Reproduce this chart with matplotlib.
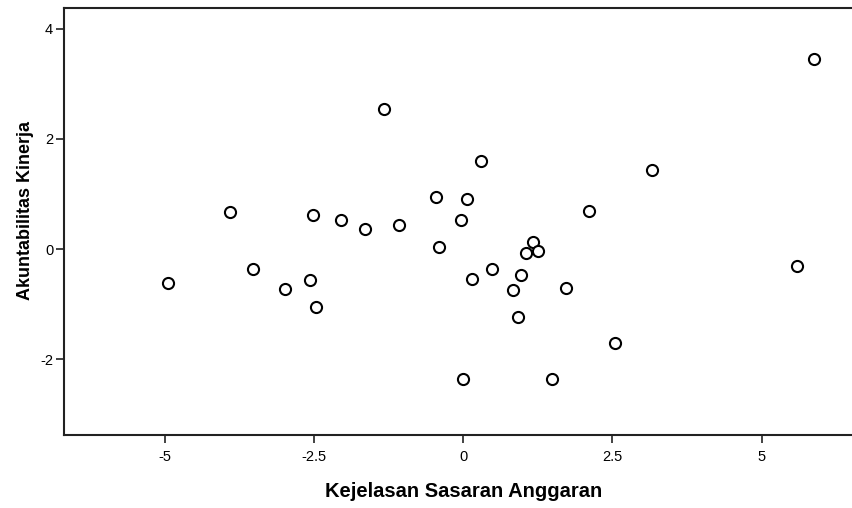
import matplotlib
matplotlib.use("Agg")
import matplotlib.pyplot as plt

# Data (Kejelasan Sasaran Anggaran vs Akuntabilitas Kinerja)
kejelasan = [-4.95, -3.90, -3.52, -2.99, -2.56, -2.52, -2.46, -2.04, -1.64, -1.33,
             -1.07, -0.46, -0.41, -0.03, 0.00, 0.06, 0.15, 0.30, 0.48, 0.83,
             0.92, 0.97, 1.06, 1.17, 1.25, 1.49, 1.72, 2.11, 2.54, 3.16,
             5.60, 5.87]
akuntabilitas = [-0.62, 0.68, -0.37, -0.72, -0.57, 0.62, -1.05, 0.53, 0.36, 2.54,
                 0.44, 0.94, 0.03, 0.53, -2.37, 0.91, -0.55, 1.60, -0.37, -0.75,
                 -1.23, -0.47, -0.08, 0.12, -0.03, -2.37, -0.70, 0.69, -1.71, 1.44,
                 -0.30, 3.46]
x_ticks = [-5, -2.5, 0, 2.5, 5]
x_ticklabels = ["-5", "-2.5", "0", "2.5", "5"]
y_ticks = [-2, 0, 2, 4]
y_ticklabels = ["-2", "0", "2", "4"]

plt.rcParams['font.family'] = ['Liberation Sans', 'DejaVu Sans']
plt.rcParams['axes.unicode_minus'] = False

fig = plt.figure(figsize=(8.53, 5.08), dpi=100)
ax = fig.add_axes([0.0754, 0.1437, 0.9246, 0.8406])

ax.plot(kejelasan, akuntabilitas, 'o', markersize=8, markerfacecolor='white',
        markeredgecolor='black', markeredgewidth=1.5)

ax.set_xlim(-6.68, 6.53)
ax.set_ylim(-3.38, 4.38)
ax.set_xticks(x_ticks)
ax.set_xticklabels(x_ticklabels)
ax.set_yticks(y_ticks)
ax.set_yticklabels(y_ticklabels)

for s in ['left', 'bottom', 'top']:
    ax.spines[s].set_linewidth(1.5)
    ax.spines[s].set_color('#222222')
ax.spines['right'].set_visible(False)
ax.tick_params(direction='out', length=6, width=1.2, labelsize=10.5,
               color='#222222')
ax.tick_params(axis='x', pad=5)
ax.tick_params(axis='y', pad=2)

ax.set_xlabel('Kejelasan Sasaran Anggaran', fontsize=14.5, fontweight='bold')
ax.set_ylabel('Akuntabilitas Kinerja', fontsize=13, fontweight='bold')
ax.xaxis.set_label_coords(0.506, -0.110)
ax.yaxis.set_label_coords(-0.039, 0.525)

fig.savefig("out.png", dpi=100)
